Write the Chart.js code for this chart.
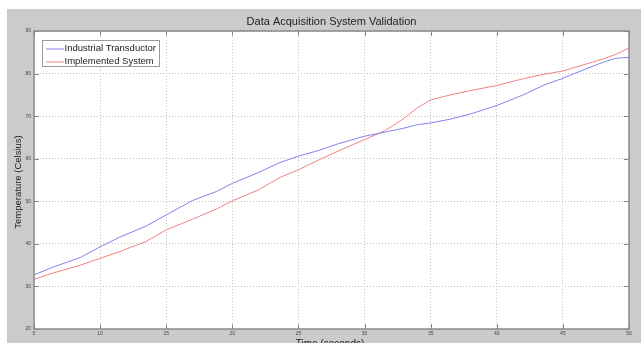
<!DOCTYPE html>
<html>
<head>
<meta charset="utf-8">
<script src="https://cdn.jsdelivr.net/npm/chart.js@4"></script>
<style>
  html, body { margin: 0; padding: 0; background: #ffffff; }
  canvas { display: block; }
</style>
</head>
<body>
<canvas id="c" width="641" height="343"></canvas>
<script>
// ---- data ----
const chartTitle = "Data Acquisition System Validation";
const xTitle = "Time (seconds)";
const yTitle = "Temperature (Celsius)";
const seriesNames = ["Industrial Transductor", "Implemented System"];
const timeSeconds = [5, 6.5, 8.5, 10, 11.5, 13.5, 15, 17, 18.8, 20, 22, 23.6, 25, 26.6, 28, 30, 31.5, 33, 34, 35, 36.5, 38, 40, 42, 43.5, 45, 46.5, 48, 49, 50];
const transductorTemp = [32.7, 34.6, 36.8, 39.3, 41.6, 44.2, 46.8, 50.2, 52.3, 54.2, 56.8, 59.1, 60.6, 62.0, 63.5, 65.3, 66.2, 67.2, 68.0, 68.4, 69.3, 70.5, 72.5, 75.0, 77.2, 78.9, 80.8, 82.6, 83.6, 83.8];
const implementedTemp = [31.7, 33.2, 35.0, 36.6, 38.2, 40.6, 43.3, 45.8, 48.2, 50.1, 52.7, 55.6, 57.4, 59.8, 61.8, 64.5, 66.5, 69.5, 72.0, 73.8, 75.0, 76.0, 77.2, 78.8, 79.8, 80.6, 82.0, 83.4, 84.5, 86.0];
const xTicks = [5, 10, 15, 20, 25, 30, 35, 40, 45, 50];
const yTicks = [20, 30, 40, 50, 60, 70, 80, 90];

const toPoints = (xs, ys) => xs.map((x, i) => ({ x: x, y: ys[i] }));

const FONT = '"Liberation Sans", Arial, sans-serif';
const figureGrey = '#cbcbcb';

const decorPlugin = {
  id: 'decor',
  beforeDraw(chart) {
    const ctx = chart.ctx;
    ctx.save();
    ctx.fillStyle = '#ffffff';
    ctx.fillRect(0, 0, chart.width, chart.height);
    ctx.fillStyle = figureGrey;
    ctx.fillRect(7, 9, chart.width - 7, chart.height - 9);
    const a = chart.chartArea;
    ctx.fillStyle = '#ffffff';
    ctx.fillRect(a.left, a.top, a.right - a.left, a.bottom - a.top);
    ctx.restore();
  },
  afterDraw(chart) {
    const ctx = chart.ctx;
    const a = chart.chartArea;
    ctx.save();
    // plot box
    ctx.strokeStyle = '#8a8a8a';
    ctx.lineWidth = 1.5;
    ctx.strokeRect(a.left, a.top, a.right - a.left, a.bottom - a.top);
    // inward tick marks
    const xs = chart.scales.x, ys = chart.scales.y;
    ctx.lineWidth = 1;
    ctx.strokeStyle = '#888';
    ctx.beginPath();
    xTicks.forEach(v => {
      const px = Math.round(xs.getPixelForValue(v)) + 0.5;
      ctx.moveTo(px, a.bottom); ctx.lineTo(px, a.bottom - 5);
      ctx.moveTo(px, a.top); ctx.lineTo(px, a.top + 5);
    });
    yTicks.forEach(v => {
      const py = Math.round(ys.getPixelForValue(v)) + 0.5;
      ctx.moveTo(a.left, py); ctx.lineTo(a.left + 5, py);
      ctx.moveTo(a.right, py); ctx.lineTo(a.right - 5, py);
    });
    ctx.stroke();

    // title
    ctx.fillStyle = '#222';
    ctx.font = '11px ' + FONT;
    ctx.textAlign = 'center';
    ctx.textBaseline = 'middle';
    ctx.fillText(chartTitle, (a.left + a.right) / 2, 22);
    // x title
    ctx.font = '10px ' + FONT;
    ctx.fillText(xTitle, 330, 344);
    // y title
    ctx.save();
    ctx.translate(18, 182);
    ctx.rotate(-Math.PI / 2);
    ctx.font = '9.5px ' + FONT;
    ctx.fillText(yTitle, 0, 0);
    ctx.restore();

    // legend box
    const bx = 42.5, by = 40.5, bw = 117, bh = 26;
    ctx.fillStyle = '#ffffff';
    ctx.fillRect(bx, by, bw, bh);
    ctx.strokeStyle = '#9a9a9a';
    ctx.lineWidth = 1;
    ctx.strokeRect(bx, by, bw, bh);
    ctx.font = '9.5px ' + FONT;
    ctx.textAlign = 'left';
    chart.data.datasets.forEach((ds, i) => {
      const ly = 48.5 + i * 13;
      ctx.strokeStyle = ds.borderColor;
      ctx.beginPath();
      ctx.moveTo(46, ly + 0.5); ctx.lineTo(64, ly + 0.5);
      ctx.stroke();
      ctx.fillStyle = '#222';
      ctx.fillText(ds.label, 64.5, ly);
    });
    ctx.restore();
  }
};

new Chart(document.getElementById('c'), {
  type: 'line',
  data: {
    datasets: [
      { label: seriesNames[0], data: toPoints(timeSeconds, transductorTemp), borderColor: '#8282f0', borderWidth: 1, pointRadius: 0, tension: 0, fill: false },
      { label: seriesNames[1], data: toPoints(timeSeconds, implementedTemp), borderColor: '#f08282', borderWidth: 1, pointRadius: 0, tension: 0, fill: false }
    ]
  },
  options: {
    responsive: false,
    animation: false,
    layout: { padding: { left: 0, top: 31, right: 12, bottom: 0 } },
    plugins: { legend: { display: false }, title: { display: false }, tooltip: { enabled: false } },
    scales: {
      x: {
        type: 'linear', min: 5, max: 50,
        afterBuildTicks: s => { s.ticks = xTicks.map(v => ({ value: v })); },
        afterFit: s => { s.height = 14; },
        grid: { color: '#c2c2c2', tickLength: 0, drawTicks: false },
        border: { display: false, dash: [1, 2] },
        ticks: { font: { size: 5, family: FONT }, color: '#444', padding: 2, maxRotation: 0 }
      },
      y: {
        type: 'linear', min: 20, max: 90,
        afterBuildTicks: s => { s.ticks = yTicks.map(v => ({ value: v })); },
        afterFit: s => { s.width = 34; },
        grid: { color: '#c2c2c2', tickLength: 0, drawTicks: false },
        border: { display: false, dash: [1, 2] },
        ticks: { font: { size: 5, family: FONT }, color: '#444', padding: 3 }
      }
    }
  },
  plugins: [decorPlugin]
});
</script>
</body>
</html>
